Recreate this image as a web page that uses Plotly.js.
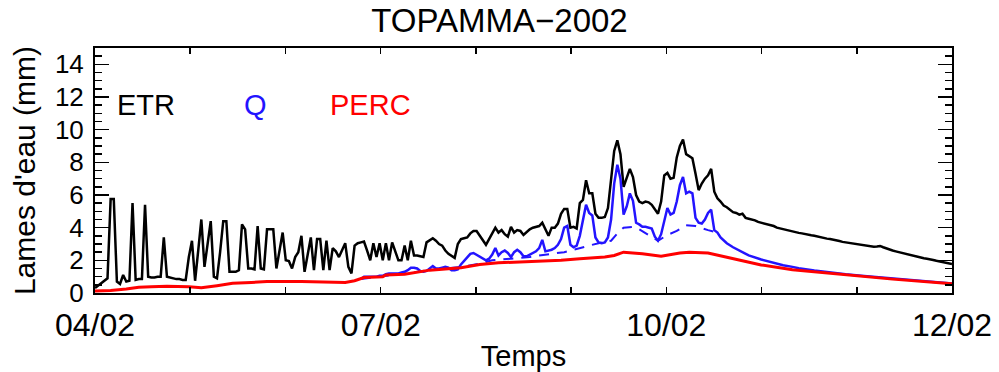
<!DOCTYPE html>
<html>
<head>
<meta charset="utf-8">
<script src="https://cdn.plot.ly/plotly-3.0.1.min.js"></script>
<style>html,body{margin:0;padding:0;background:#fff;}#chart{width:999px;height:372px;}</style>
</head>
<body>
<div id="chart"></div>
<script>
// Daily ETR (evapotranspiration), day 0 = 1 April 2002
const etrVals = [
0.3,0.45,0.6,0.7,0.9,5.75,5.75,0.7,0.55,1.1,
0.7,0.75,5.5,0.8,0.85,0.85,5.4,1.0,0.95,0.95,
1.0,1.0,3.4,1.0,0.95,0.9,0.85,0.85,0.8,0.8,
2.2,3.2,0.75,2.6,4.5,1.6,3.0,4.4,1.0,0.9,
2.5,4.4,4.4,1.3,1.3,1.3,1.4,4.2,3.9,1.5,
1.5,1.45,4.1,1.5,1.45,3.9,3.9,3.9,1.5,2.5,
3.7,2.0,1.95,1.5,2.2,2.5,3.5,1.3,2.3,3.4,
1.4,3.3,3.3,1.4,3.2,1.4,2.75,2.55,2.2,2.6,
3.05,1.6,1.2,2.9,3.05,3.1,3.15,2.6,2.0,3.05,
2.2,3.05,2.0,3.05,2.0,3.1,2.6,2.0,2.0,2.9,
2.0,3.2,2.3,2.3,2.25,2.2,3.1,3.2,3.35,3.2,
3.0,2.9,2.6,2.4,2.25,2.15,3.0,3.3,3.35,3.4,
3.65,3.8,3.8,3.5,3.2,2.95,3.3,3.65,4.0,3.7,
3.85,3.6,3.45,4.05,3.7,3.85,3.8,3.55,3.75,3.9,
4.0,4.05,4.1,4.3,3.9,3.5,4.0,4.0,4.25,4.85,
5.15,5.15,4.0,4.05,3.95,5.5,5.7,6.9,6.1,6.1,
4.85,4.6,4.6,4.65,5.2,7.0,8.7,9.35,8.5,6.5,
7.1,7.6,7.1,6.0,5.6,5.5,5.6,5.55,5.4,5.1,
4.85,5.6,7.2,7.35,7.0,7.05,8.3,9.0,9.4,8.5,
8.35,8.25,7.3,6.3,6.7,7.0,7.2,7.6,6.2,5.8,
5.6,5.35,5.25,5.1,4.95,4.9,4.8,4.85,4.6,4.55,
4.5,4.45,4.35,4.3,4.25,4.2,4.15,4.1,4.0,3.95,
3.9,3.85,3.8,3.75,3.72,3.68,3.65,3.6,3.57,3.53,
3.5,3.45,3.42,3.38,3.33,3.3,3.27,3.22,3.18,3.13,
3.1,3.07,3.03,3.0,2.96,2.93,2.88,2.85,2.82,2.83,
2.85,2.88,2.8,2.72,2.65,2.6,2.55,2.5,2.45,2.4,
2.36,2.33,2.27,2.2,2.16,2.13,2.1,2.08,2.02,1.97,
1.93,1.88,1.85,1.82,1.78
];
const etrDays = etrVals.map((v, i) => i);

// Q (runoff), solid
const qDays = [85,86,87,88,89,90,91,92,93,94,95,96,97,98,99,100,101,102,103,104,105,106,107,108,109,110,
111,112,113,114,115,116,117,118,119,120,121,122,123,124,125,126,127,128,129,130,131,132,133,134,135,136,137,138,139,140,
141,142,143,144,145,146,147,148,149,150,151,152,153,154,155,156,157,158,159,160,161,162,163,164,165,166,167,168,169,170,
171,172,173,174,175,176,177,178,179,180,181,182,183,184,185,186,187,188,189,190,191,192,193,194,195,196,197,198,199,200,
202,204,207,209,213,215,218,220,223,225,230,234,240,245,250,255,260,265,270,274];
const qVals = [0.85,1.0,1.0,1.0,1.0,1.0,1.05,1.05,1.15,1.2,1.2,1.2,1.2,1.25,1.3,1.4,1.55,1.55,1.5,1.35,
1.3,1.35,1.5,1.65,1.5,1.5,1.55,1.6,1.55,1.4,1.4,1.45,1.75,1.95,2.2,2.4,2.45,2.35,2.2,2.1,
2.0,2.1,2.35,2.75,2.3,2.5,2.6,2.45,2.2,2.5,2.65,2.5,2.25,2.25,2.35,2.45,2.55,2.75,3.25,2.55,
2.6,2.65,2.75,2.95,3.3,4.0,4.1,2.95,2.8,2.9,3.5,4.5,5.4,4.9,4.75,3.4,3.1,3.05,3.1,3.4,
4.5,6.7,7.85,7.0,4.8,5.3,6.1,5.65,4.3,4.2,4.05,4.05,4.0,3.95,3.45,3.2,3.6,4.5,5.2,4.8,
4.9,5.6,6.6,7.1,6.1,6.2,6.1,4.6,4.3,4.25,4.5,4.9,5.1,3.85,3.7,3.4,
3.05,2.8,2.5,2.3,2.05,1.95,1.8,1.7,1.6,1.52,1.38,1.28,1.15,1.06,0.97,0.88,0.8,0.72,0.64,0.58];

// Q, dashed (slow component)
const qSlowDays = [85,98,107,117,123,127,134,139,142,150,157,161,165,167,169,172,174,178,180,183,186,189,192,196,199];
const qSlowVals = [0.85,1.2,1.4,1.6,1.8,2.0,2.1,2.2,2.3,2.5,2.85,3.05,3.2,3.65,4.0,4.05,3.9,3.45,3.2,3.55,3.8,4.15,4.1,3.85,3.7];

// PERC (percolation)
const percDays = [0,5,10,14,18,23,30,34,39,44,50,55,66,76,80,83,86,92,93,99,104,107,117,120,123,129,136,142,149,155,
163,166,169,175,181,187,190,196,202,207,213,223,236,245,255,274];
const percVals = [0.12,0.15,0.25,0.35,0.38,0.42,0.38,0.32,0.45,0.6,0.65,0.7,0.7,0.65,0.65,0.75,0.95,1.0,1.1,1.15,
1.3,1.4,1.55,1.65,1.75,1.85,1.9,1.95,2.0,2.1,2.2,2.3,2.5,2.4,2.25,2.45,2.5,2.45,2.2,1.95,
1.72,1.42,1.18,1.02,0.85,0.57];

const tickDays = [0, 30.44, 60.89, 91.33, 121.78, 152.22, 182.67, 213.11, 243.56, 274];
const tickLabels = ['04/02', '', '', '07/02', '', '', '10/02', '', '', '12/02'];

const legendNames = ['ETR', 'Q', 'PERC'];
const legendX = [0.06, 0.187, 0.321];

const BLUE = 'rgb(35,20,255)';
const RED = 'rgb(255,0,0)';
const FONT = '"Liberation Sans", Arial, sans-serif';

const traces = [
  {x: etrDays, y: etrVals, type: 'scatter', mode: 'lines', line: {color: 'black', width: 2.5}, name: 'ETR'},
  {x: qSlowDays, y: qSlowVals, type: 'scatter', mode: 'lines', line: {color: BLUE, width: 2, dash: '10px,8px'}, name: 'Q lent'},
  {x: qDays, y: qVals, type: 'scatter', mode: 'lines', line: {color: BLUE, width: 2.5}, name: 'Q'},
  {x: percDays, y: percVals, type: 'scatter', mode: 'lines', line: {color: RED, width: 3}, name: 'PERC'}
];

const colors = ['black', BLUE, RED];
const annotations = legendNames.map((t, i) => ({
  text: t, xref: 'paper', yref: 'y', x: legendX[i], y: 11.5,
  xanchor: 'center', yanchor: 'middle', showarrow: false,
  font: {family: FONT, size: 29, color: colors[i]}
}));

const layout = {
  width: 999, height: 372,
  margin: {l: 95, r: 47, t: 48, b: 79},
  paper_bgcolor: 'white', plot_bgcolor: 'white',
  showlegend: false,
  font: {family: FONT, size: 26, color: 'black'},
  title: {text: 'TOPAMMA\u22122002', font: {family: FONT, size: 33, color: 'black'},
          x: 0.5, xref: 'container', xanchor: 'center', y: 0.946, yref: 'container', yanchor: 'middle'},
  xaxis: {
    range: [0, 274], tickmode: 'array', tickvals: tickDays, ticktext: tickLabels,
    ticks: 'inside', ticklen: 6, tickwidth: 1.5, tickcolor: 'black',
    showline: true, linecolor: 'black', linewidth: 2, mirror: 'ticks',
    showgrid: false, zeroline: false, ticklabelstandoff: 3,
    tickfont: {family: FONT, size: 32, color: 'black'},
    title: {text: 'Temps', font: {family: FONT, size: 29, color: 'black'}, standoff: 5}
  },
  yaxis: {
    range: [0, 15], tick0: 0, dtick: 2,
    ticks: 'inside', ticklen: 14, tickwidth: 1.5, tickcolor: 'black',
    minor: {dtick: 0.5, ticks: 'inside', ticklen: 7, tickwidth: 1.5, tickcolor: 'black', showgrid: false},
    showline: true, linecolor: 'black', linewidth: 2, mirror: 'ticks',
    showgrid: false, zeroline: false, ticklabelstandoff: 4,
    tickfont: {family: FONT, size: 26, color: 'black'},
    title: {text: "Lames d'eau (mm)", font: {family: FONT, size: 30, color: 'black'}, standoff: 10}
  },
  annotations: annotations
};

Plotly.newPlot('chart', traces, layout, {staticPlot: true, displayModeBar: false});
</script>
</body>
</html>
